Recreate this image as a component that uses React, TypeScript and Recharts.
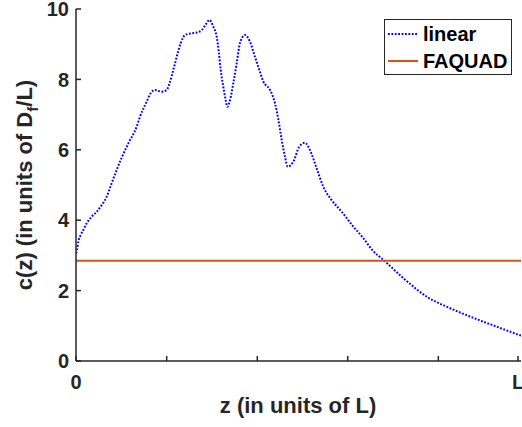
import React from 'react';
import { LineChart, Line, XAxis, YAxis } from 'recharts';

// z in units of L (0 .. 1), c in units of D_f/L
const zLinear = [
  0, 0.0022, 0.0052, 0.0106, 0.0164, 0.024, 0.0353, 0.0465, 0.0578, 0.069,
  0.0787, 0.0915, 0.1034, 0.1175, 0.1364, 0.1438, 0.1589, 0.1685, 0.1775, 0.1926,
  0.2038, 0.2112, 0.2187, 0.2263, 0.2353, 0.2449, 0.26, 0.2712, 0.2825, 0.2921,
  0.2996, 0.3085, 0.3162, 0.3213, 0.3252, 0.331, 0.3364, 0.34, 0.3461, 0.3535,
  0.3611, 0.3685, 0.3798, 0.391, 0.4022, 0.4119, 0.4209, 0.436, 0.4472, 0.4546,
  0.4622, 0.4697, 0.4757, 0.4883, 0.5018, 0.5146, 0.5258, 0.5409, 0.5557, 0.5746,
  0.5971, 0.6231, 0.6456, 0.6645, 0.6928, 0.7378, 0.7903, 0.8353, 0.8802, 0.94, 1,
];
const cLinear = [
  3.06, 3.15, 3.39, 3.58, 3.72, 3.91, 4.1, 4.24, 4.43, 4.67,
  5.0, 5.43, 5.8, 6.18, 6.66, 6.94, 7.37, 7.62, 7.7, 7.65,
  7.7, 7.93, 8.27, 8.64, 9.03, 9.26, 9.31, 9.33, 9.4, 9.57,
  9.69, 9.5, 9.21, 8.74, 8.27, 7.79, 7.41, 7.22, 7.41, 7.89,
  8.46, 9.03, 9.26, 9.07, 8.64, 8.27, 7.94, 7.7, 7.32, 6.87,
  6.28, 5.8, 5.52, 5.66, 6.09, 6.2, 5.99, 5.47, 4.95, 4.57,
  4.24, 3.82, 3.49, 3.17, 2.85, 2.33, 1.81, 1.53, 1.29, 1.0, 0.72,
];
const zFaquad = [0, 1];
const cFaquad = [2.85, 2.85];

const xTicks = [0, 0.2038, 0.4074, 0.6106, 0.8142, 1];
const xTickLabels: Record<number, string> = { 0: '0', 1: 'L' };
const yTicks = [0, 2, 4, 6, 8, 10];

const linearData = zLinear.map((z, i) => ({ z, c: cLinear[i] }));
const faquadData = zFaquad.map((z, i) => ({ z, c: cFaquad[i] }));

const FONT = '"Liberation Sans", Arial, Helvetica, sans-serif';
const AXIS = '#262626';
const TICK_FS = 20;
const TITLE_FS = 22;

const BottomTick = (props: any) => {
  const { x, y, payload } = props;
  const label = xTickLabels[payload.value];
  return (
    <g>
      <line x1={x} y1={y} x2={x} y2={y - 5} stroke={AXIS} strokeWidth={1.5} />
      {label && (
        <text x={x} y={y + 28} textAnchor="middle" fontFamily={FONT} fontWeight="bold" fontSize={TICK_FS} fill={AXIS}>
          {label}
        </text>
      )}
    </g>
  );
};

const TopTick = (props: any) => {
  const { x, y } = props;
  return <line x1={x} y1={y} x2={x} y2={y + 5} stroke={AXIS} strokeWidth={1.5} />;
};

const LeftTick = (props: any) => {
  const { x, y, payload } = props;
  return (
    <g>
      <line x1={x} y1={y} x2={x + 5} y2={y} stroke={AXIS} strokeWidth={1.5} />
      <text x={x - 7} y={y} dy="0.36em" textAnchor="end" fontFamily={FONT} fontWeight="bold" fontSize={TICK_FS} fill={AXIS}>
        {payload.value}
      </text>
    </g>
  );
};

const RightTick = (props: any) => {
  const { x, y } = props;
  return <line x1={x} y1={y} x2={x - 5} y2={y} stroke={AXIS} strokeWidth={1.5} />;
};

export default function App() {
  return (
    <div style={{ position: 'absolute', left: 0, top: 0, width: 522, height: 427, background: 'white', overflow: 'hidden' }}>
      <LineChart width={522} height={427} margin={{ top: 9, right: 1, bottom: 0, left: 0 }}>
        <XAxis
          xAxisId="b"
          dataKey="z"
          type="number"
          domain={[0, 1]}
          ticks={xTicks}
          tick={<BottomTick />}
          tickLine={false}
          tickSize={0}
          tickMargin={0}
          height={66}
          axisLine={{ stroke: AXIS, strokeWidth: 1.5 }}
          allowDataOverflow
          label={{
            content: () => (
              <text x={298} y={413} textAnchor="middle" fontFamily={FONT} fontWeight="bold" fontSize={TITLE_FS} fill={AXIS}>
                z (in units of L)
              </text>
            ),
          }}
        />
        <XAxis
          xAxisId="t"
          orientation="top"
          dataKey="z"
          type="number"
          domain={[0, 1]}
          ticks={xTicks}
          tick={<TopTick />}
          tickLine={false}
          tickSize={0}
          tickMargin={0}
          height={0}
          axisLine={{ stroke: AXIS, strokeWidth: 1.5 }}
        />
        <YAxis
          yAxisId="l"
          type="number"
          domain={[0, 10]}
          ticks={yTicks}
          tick={<LeftTick />}
          tickLine={false}
          tickSize={0}
          tickMargin={0}
          width={76}
          axisLine={{ stroke: AXIS, strokeWidth: 1.5 }}
          label={{
            content: () => (
              <text
                transform="translate(32,185) rotate(-90)"
                textAnchor="middle"
                fontFamily={FONT}
                fontWeight="bold"
                fontSize={TITLE_FS}
                fill={AXIS}
              >
                c(z) (in units of D
                <tspan dy={6} fontSize={15}>f</tspan>
                <tspan dy={-6}>/L)</tspan>
              </text>
            ),
          }}
        />
        <YAxis
          yAxisId="r"
          orientation="right"
          type="number"
          domain={[0, 10]}
          ticks={yTicks}
          tick={<RightTick />}
          tickLine={false}
          tickSize={0}
          tickMargin={0}
          width={0}
          axisLine={{ stroke: AXIS, strokeWidth: 1.5 }}
        />
        <Line
          xAxisId="b"
          yAxisId="l"
          data={linearData}
          dataKey="c"
          type="monotone"
          stroke="#0000FF"
          strokeWidth={2}
          strokeDasharray="1.8 1.6"
          dot={false}
          isAnimationActive={false}
        />
        <Line
          xAxisId="b"
          yAxisId="l"
          data={faquadData}
          dataKey="c"
          type="linear"
          stroke="#D95319"
          strokeWidth={2}
          dot={false}
          isAnimationActive={false}
        />
      </LineChart>
      <div
        style={{
          position: 'absolute',
          left: 384,
          top: 19,
          width: 128,
          height: 56,
          border: `1.5px solid ${AXIS}`,
          background: 'white',
          fontFamily: FONT,
          fontWeight: 'bold',
          fontSize: 20,
          color: '#000',
          boxSizing: 'border-box',
        }}
      >
        <div style={{ position: 'absolute', left: 3, top: 3, display: 'flex', alignItems: 'center', lineHeight: '22px' }}>
          <svg width={30} height={4} style={{ marginRight: 5 }}>
            <line x1={0} y1={2} x2={30} y2={2} stroke="#0000FF" strokeWidth={2} strokeDasharray="1.8 1.6" />
          </svg>
          linear
        </div>
        <div style={{ position: 'absolute', left: 3, top: 30, display: 'flex', alignItems: 'center', lineHeight: '22px' }}>
          <svg width={30} height={4} style={{ marginRight: 5 }}>
            <line x1={0} y1={2} x2={30} y2={2} stroke="#D95319" strokeWidth={2} />
          </svg>
          FAQUAD
        </div>
      </div>
    </div>
  );
}
